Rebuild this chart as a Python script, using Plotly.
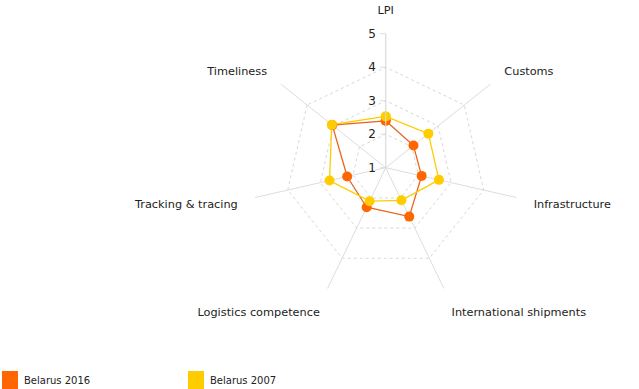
import plotly.graph_objects as go

categories = ["LPI", "Customs", "Infrastructure", "International shipments",
              "Logistics competence", "Tracking & tracing", "Timeliness"]
belarus_2016 = [2.40, 2.06, 2.10, 2.62, 2.31, 2.18, 3.04]
belarus_2007 = [2.53, 2.63, 2.63, 2.08, 2.11, 2.72, 3.06]
series_names = ["Belarus 2016", "Belarus 2007"]
radial_ticks = [1, 2, 3, 4, 5]

orange = "#FF6600"
orange_line = "#E8641E"
yellow = "#FFCC00"

W, H = 639, 389
cx, cy, R = 385.7, 167.7, 134.0

fig = go.Figure()

def closed(v):
    return list(v) + [v[0]]

fig.add_trace(go.Scatterpolar(
    r=closed(belarus_2016), theta=closed(categories), name=series_names[0],
    mode="lines+markers", line=dict(color=orange_line, width=1.3),
    marker=dict(color=orange, size=10), showlegend=False))
fig.add_trace(go.Scatterpolar(
    r=closed(belarus_2007), theta=closed(categories), name=series_names[1],
    mode="lines+markers", line=dict(color=yellow, width=1.3),
    marker=dict(color=yellow, size=10), showlegend=False))

fig.update_layout(
    width=W, height=H,
    margin=dict(l=0, r=0, t=0, b=0),
    paper_bgcolor="white",
    font=dict(family="DejaVu Sans", size=11, color="#222"),
    polar=dict(
        domain=dict(x=[(cx - R) / W, (cx + R) / W],
                    y=[(H - cy - R) / H, (H - cy + R) / H]),
        bgcolor="white",
        gridshape="linear",
        radialaxis=dict(range=[1, 5], tickvals=radial_ticks, angle=90,
                        showline=True, linecolor="#dddddd", linewidth=1,
                        gridcolor="#d8d8d8", griddash="3px,3px", gridwidth=1,
                        ticks="outside", ticklen=5, tickcolor="#dddddd",
                        tickfont=dict(size=12, color="#222"),
                        side="counterclockwise", tickangle=90),
        angularaxis=dict(direction="clockwise", rotation=90,
                         showline=False, gridcolor="#dddddd", gridwidth=1,
                         ticks="outside", ticklen=15, tickcolor="rgba(0,0,0,0)",
                         tickfont=dict(size=11.3, color="#222")),
    ),
)

# legend squares and labels
legend_items = [(2, orange, series_names[0]), (188, yellow, series_names[1])]
for x0, col, name in legend_items:
    fig.add_shape(type="rect", xref="paper", yref="paper",
                  x0=x0 / W, x1=(x0 + 16) / W,
                  y0=0, y1=(H - 371) / H,
                  fillcolor=col, line=dict(width=0))
    fig.add_annotation(xref="paper", yref="paper", x=(x0 + 20) / W,
                       y=(H - 380) / H,
                       text=name, showarrow=False, xanchor="left", yanchor="middle",
                       font=dict(size=10, color="#222"))

fig.write_html("out.html", config={"displayModeBar": False},
               post_script="document.body.style.margin='0px';")
